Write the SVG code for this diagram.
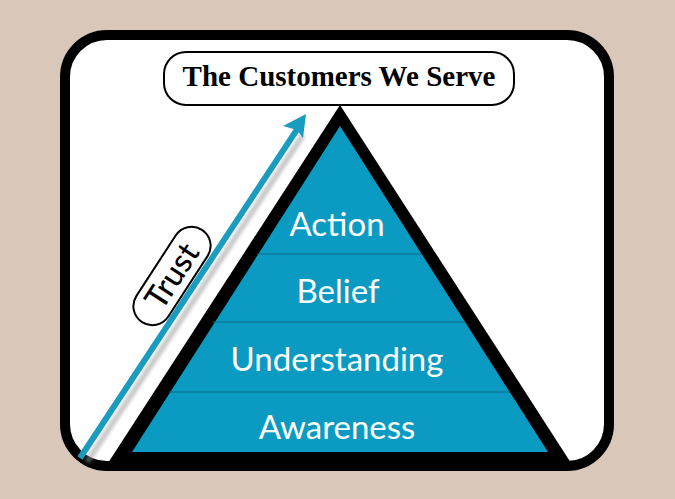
<svg xmlns="http://www.w3.org/2000/svg" width="675" height="499" viewBox="0 0 675 499">
<style>
.lvl{font-family:Lato,"Open Sans","Noto Sans",sans-serif;font-size:33px;fill:#fff;text-anchor:middle}
.div{stroke:#0a6a86;stroke-width:1.2}
</style>
<defs>
<filter id="sh" x="-20%" y="-20%" width="140%" height="140%"><feGaussianBlur stdDeviation="1.5"/></filter>
</defs>
<rect width="675" height="499" fill="#d9c8b9"/>
<g id="frame"><rect x="65" y="35" width="544" height="431" rx="42" fill="#fff" stroke="#000" stroke-width="10"/></g>
<g id="title">
<rect x="164" y="52" width="350" height="53" rx="22" fill="#fff" stroke="#000" stroke-width="2"/>
<text x="339" y="86" font-family="Liberation Serif,serif" font-weight="bold" font-size="29" text-anchor="middle">The Customers We Serve</text>
</g>
<g id="connectors">
<line x1="84" y1="460" x2="300" y2="133" stroke="#999" stroke-width="6" opacity="0.5" filter="url(#sh)" transform="translate(3,2)"/>
<line x1="80" y1="458" x2="298" y2="128" stroke="#1a9cc0" stroke-width="6"/>
<polygon points="306,114 303,138 297,130 283,126" fill="#1a9cc0"/>
</g>
<g id="trust" transform="translate(172,276) rotate(-57)">
<rect x="-55" y="-19" width="110" height="38" rx="19" fill="#fff" stroke="#000" stroke-width="2"/>
<text x="0" y="11" font-family="Lato,'Open Sans',sans-serif" font-size="32" font-weight="500" text-anchor="middle">Trust</text>
</g>
<g id="pyramid">
<polygon points="340,105 108,463 571,463" fill="#000"/>
<polygon points="340,126 132,452 548,452" fill="#0b9bc2"/>
<line class="div" x1="257" y1="254" x2="422" y2="254"/>
<line class="div" x1="213" y1="322" x2="466" y2="322"/>
<line class="div" x1="169" y1="392" x2="510" y2="392"/>
</g>
<g id="action"><text class="lvl" x="337" y="236">Action</text></g>
<g id="belief"><text class="lvl" x="338" y="303">Belief</text></g>
<g id="understanding"><text class="lvl" x="337" y="371">Understanding</text></g>
<g id="awareness"><text class="lvl" x="337" y="439">Awareness</text></g>
</svg>
